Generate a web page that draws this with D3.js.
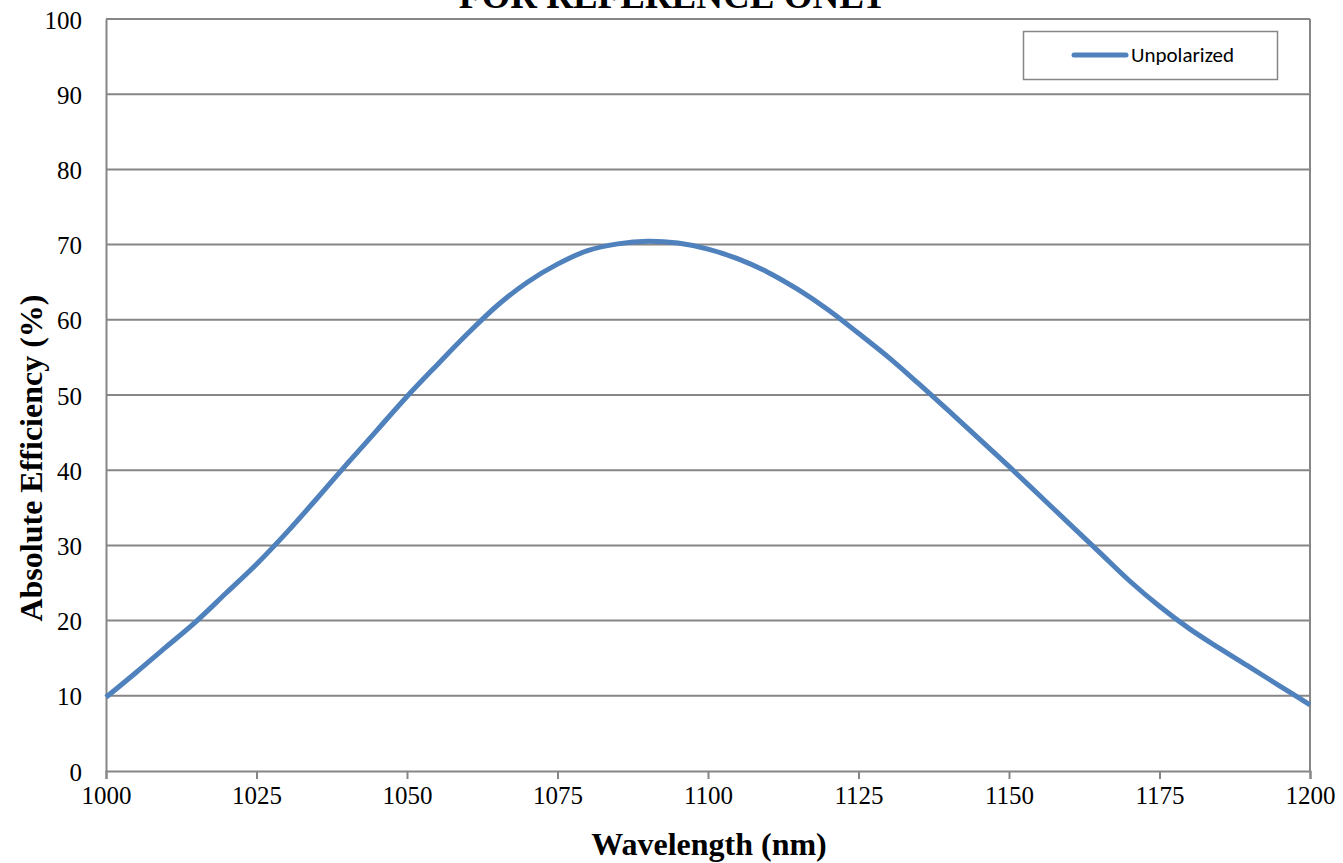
<!DOCTYPE html>
<html>
<head>
<meta charset="utf-8">
<script src="https://cdn.jsdelivr.net/npm/d3@7"></script>
<style>
  html, body { margin: 0; padding: 0; background: #fff; }
  svg { display: block; }
  .tick text { font-family: "Liberation Serif", "Times New Roman", serif; font-size: 25px; fill: #000; }
  .ttl { font-family: "Liberation Serif", "Times New Roman", serif; font-weight: bold; fill: #000; }
</style>
</head>
<body>
<svg id="chart" width="1343" height="863"></svg>
<script>
/* Grating efficiency curve — absolute efficiency vs wavelength, single unpolarized series. */
(function () {
  "use strict";

  const wavelengths = [1000, 1005, 1010, 1015, 1020, 1025, 1030, 1035, 1040, 1045, 1050,
    1055, 1060, 1065, 1070, 1075, 1080, 1085, 1090, 1095, 1100,
    1105, 1110, 1115, 1120, 1125, 1130, 1135, 1140, 1145, 1150,
    1155, 1160, 1165, 1170, 1175, 1180, 1185, 1190, 1195, 1200];
  const unpolarized = [9.8, 13.1, 16.5, 19.9, 23.7, 27.5, 31.7, 36.2, 40.8, 45.3, 49.8,
    54.0, 58.1, 61.9, 65.0, 67.4, 69.2, 70.1, 70.45, 70.2, 69.4,
    68.1, 66.3, 64.0, 61.3, 58.2, 55.0, 51.5, 47.9, 44.2, 40.5,
    36.7, 32.9, 29.1, 25.3, 21.9, 18.9, 16.3, 13.8, 11.3, 8.8];
  const xTicks = [1000, 1025, 1050, 1075, 1100, 1125, 1150, 1175, 1200];
  const yTicks = [0, 10, 20, 30, 40, 50, 60, 70, 80, 90, 100];
  const seriesName = "Unpolarized";

  const BLUE = "#4f81bd", GRID = "#868686";
  const m = { l: 106, r: 1310, t: 19, b: 771 };

  const svg = d3.select("#chart");
  const x = d3.scaleLinear().domain([1000, 1200]).range([m.l, m.r]);
  const y = d3.scaleLinear().domain([0, 100]).range([m.b, m.t]);

  // horizontal gridlines
  svg.append("g").selectAll("line").data(yTicks.filter((v) => v > 0)).enter().append("line")
    .attr("x1", m.l).attr("x2", m.r).attr("y1", (v) => y(v)).attr("y2", (v) => y(v))
    .attr("stroke", GRID).attr("stroke-width", 2);
  // right border
  svg.append("line").attr("x1", m.r).attr("x2", m.r).attr("y1", m.t).attr("y2", m.b)
    .attr("stroke", GRID).attr("stroke-width", 2);

  // axes
  const gx = svg.append("g").attr("transform", `translate(0,${m.b})`)
    .call(d3.axisBottom(x).tickValues(xTicks).tickSize(8).tickPadding(7).tickFormat(d3.format("d")));
  const gy = svg.append("g").attr("transform", `translate(${m.l},0)`)
    .call(d3.axisLeft(y).tickValues(yTicks).tickSize(0).tickPadding(24));
  [gx, gy].forEach((g) => {
    g.select(".domain").attr("stroke", GRID).attr("stroke-width", 2);
    g.selectAll(".tick line").attr("stroke", GRID).attr("stroke-width", 2);
  });
  gy.selectAll(".tick text").attr("dy", "0.36em");

  // curve
  const line = d3.line().x((d) => x(d[0])).y((d) => y(d[1])).curve(d3.curveCatmullRom.alpha(0.5));
  svg.append("path").datum(wavelengths.map((w, i) => [w, unpolarized[i]]))
    .attr("fill", "none").attr("stroke", BLUE).attr("stroke-width", 5)
    .attr("stroke-linejoin", "round").attr("d", line);

  // legend
  const lg = svg.append("g");
  lg.append("rect").attr("x", 1023.5).attr("y", 31.5).attr("width", 254).attr("height", 48)
    .attr("fill", "#fff").attr("stroke", GRID).attr("stroke-width", 1.5);
  lg.append("line").attr("x1", 1074).attr("x2", 1126).attr("y1", 55).attr("y2", 55)
    .attr("stroke", BLUE).attr("stroke-width", 5).attr("stroke-linecap", "round");
  lg.append("text").attr("x", 1131).attr("y", 62)
    .attr("font-family", "Carlito, 'Open Sans', 'Liberation Sans', sans-serif").attr("font-size", 21)
    .text(seriesName);

  // titles
  svg.append("text").attr("class", "ttl").attr("x", 673).attr("y", 8)
    .attr("text-anchor", "middle").attr("font-size", 37).text("FOR REFERENCE ONLY");
  svg.append("text").attr("class", "ttl").attr("x", 709).attr("y", 855)
    .attr("text-anchor", "middle").attr("font-size", 32).text("Wavelength (nm)");
  svg.append("text").attr("class", "ttl")
    .attr("transform", "translate(42,458) rotate(-90)")
    .attr("text-anchor", "middle").attr("font-size", 32).text("Absolute Efficiency (%)");
})();
</script>
</body>
</html>
